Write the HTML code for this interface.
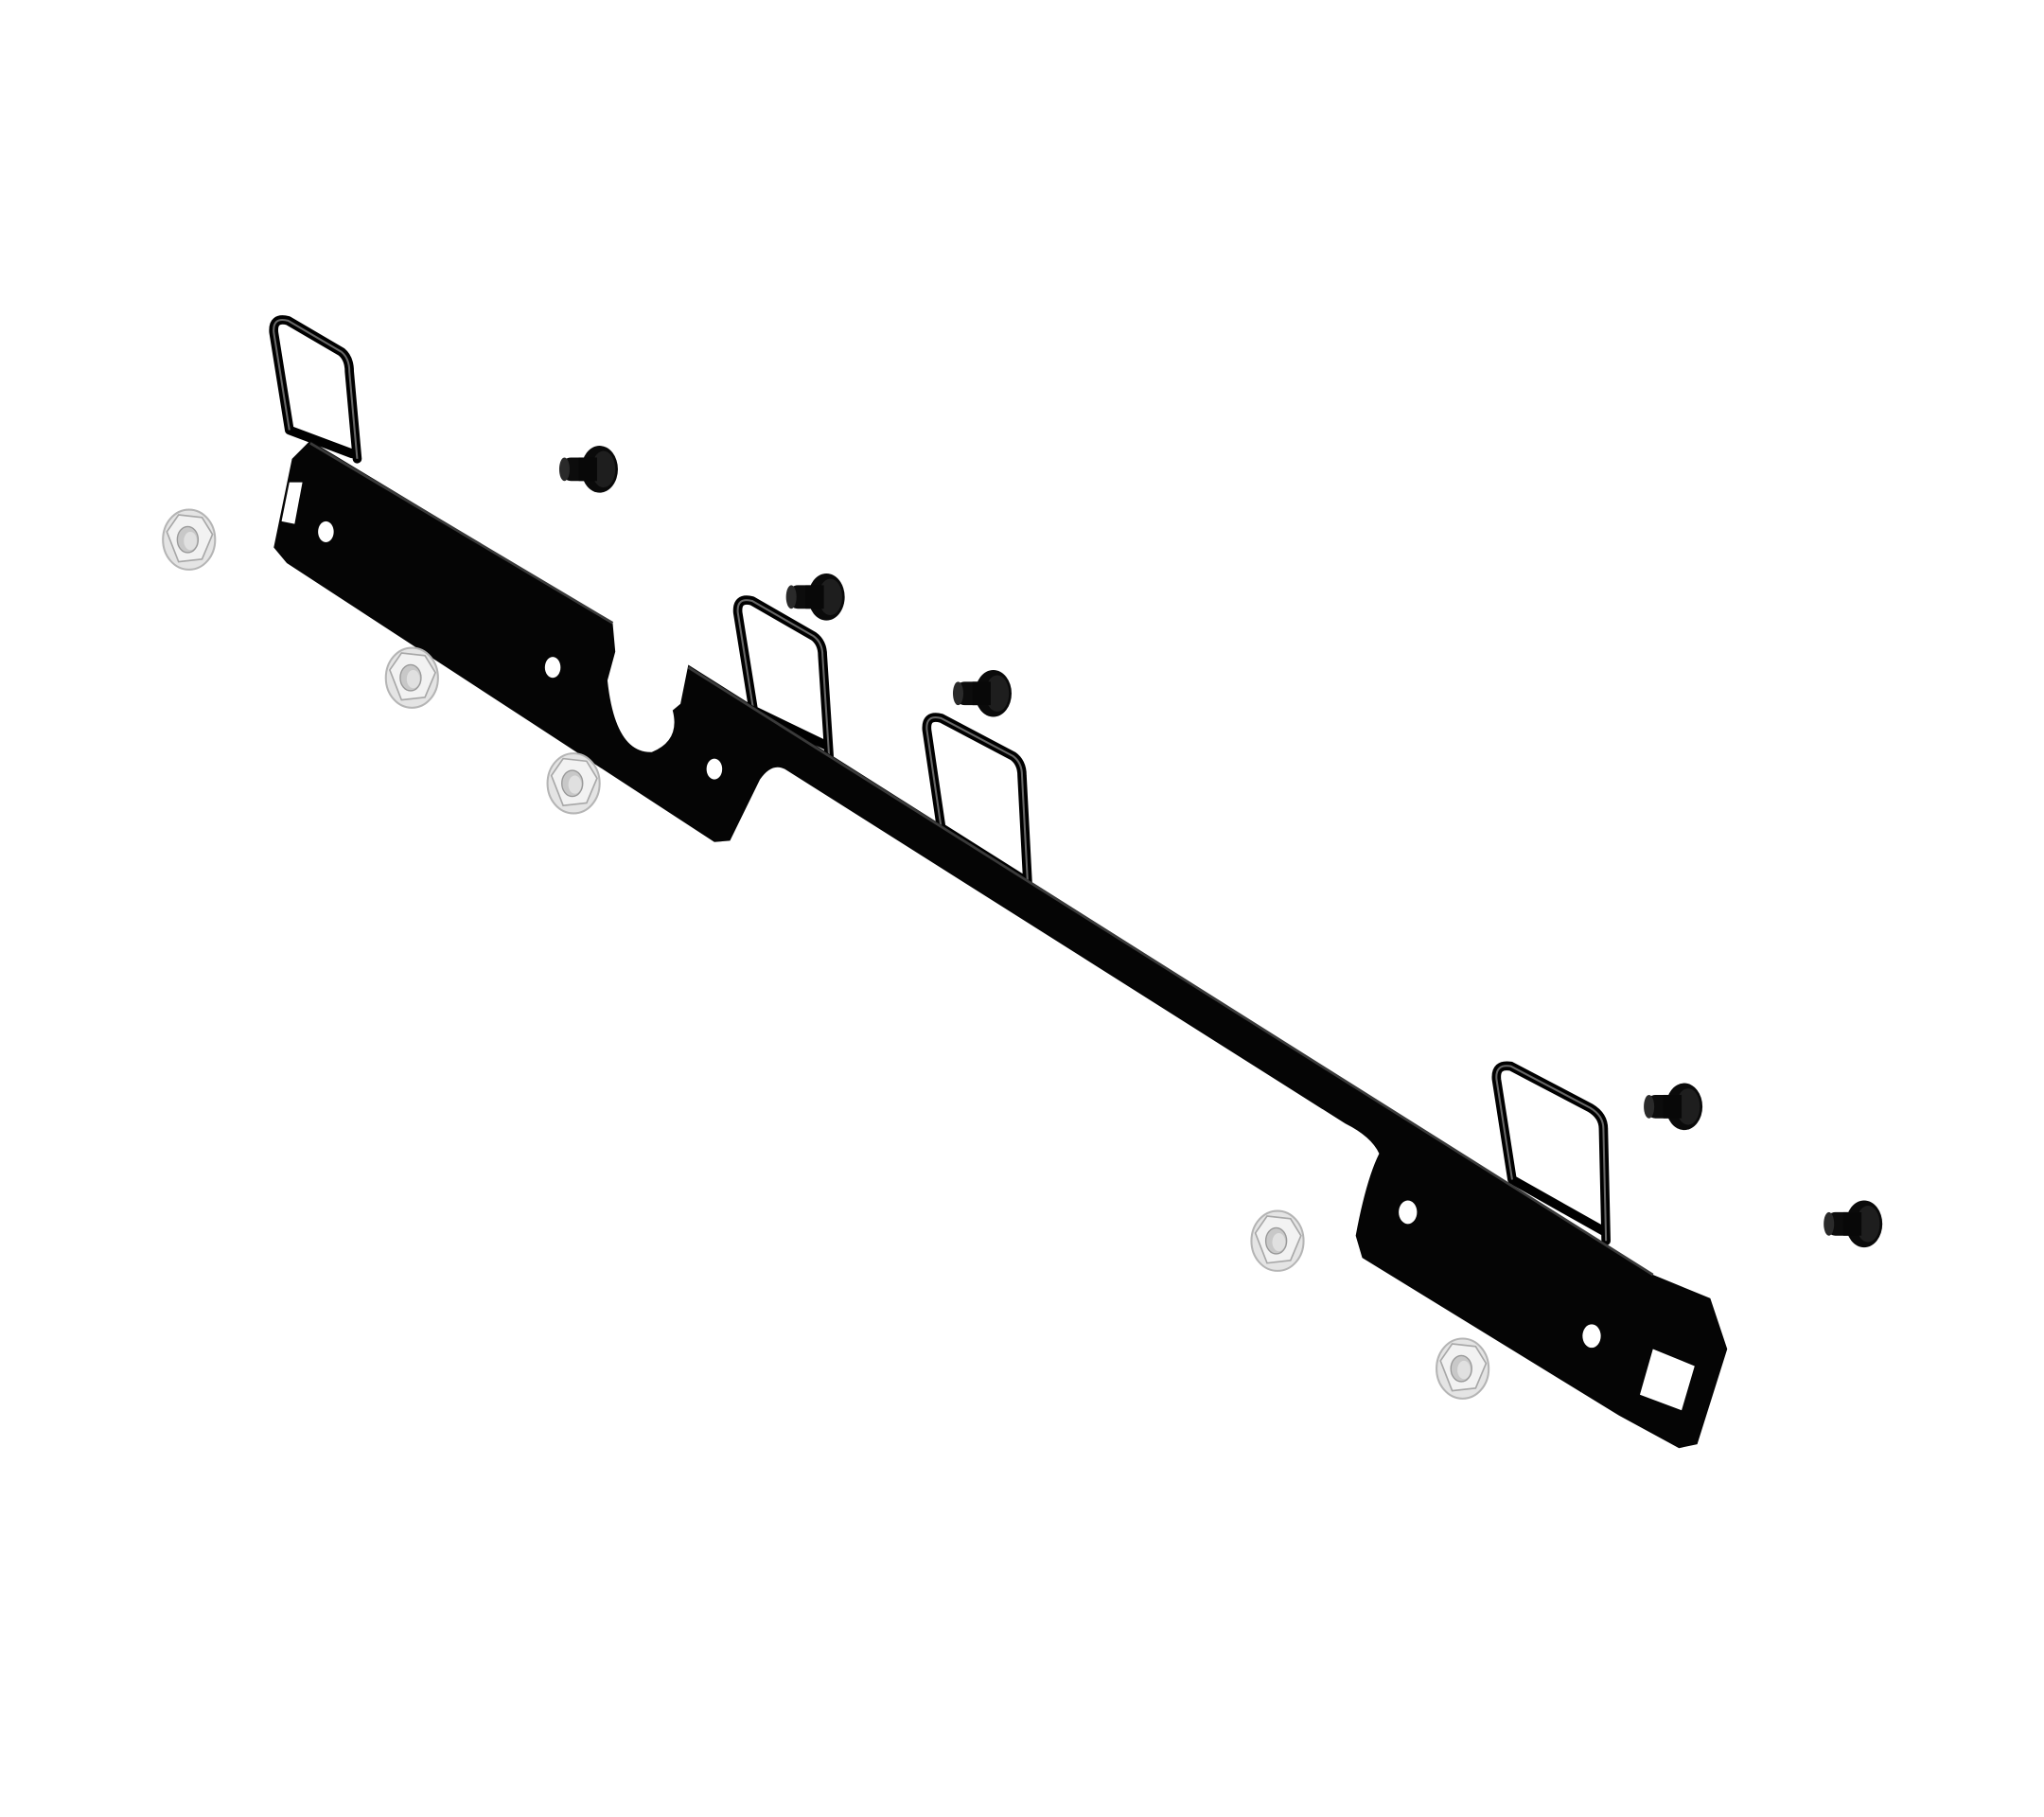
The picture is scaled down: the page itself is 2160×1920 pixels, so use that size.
<!DOCTYPE html>
<html><head><meta charset="utf-8"><style>
html,body{margin:0;padding:0;background:#fff;width:2160px;height:1920px;overflow:hidden}
svg{display:block}
</style></head><body>
<svg width="2160" height="1920" viewBox="0 0 1568 1394" preserveAspectRatio="none" xmlns="http://www.w3.org/2000/svg">
<defs>
<g id="bolt">
<rect x="-27" y="-9" width="26" height="18" rx="7" fill="#0c0c0c"/>
<ellipse cx="-25" cy="0" rx="4" ry="9" fill="#2a2a2a"/>
<ellipse cx="2" cy="0" rx="14" ry="18" fill="#0a0a0a"/>
<ellipse cx="5" cy="0" rx="9" ry="14" fill="#1e1e1e"/>
<rect x="-14" y="-9" width="14" height="18" fill="#080808"/>
</g>
<g id="nut">
<ellipse cx="0" cy="0" rx="20" ry="23" fill="#e4e4e4" stroke="#b5b5b5" stroke-width="1.5"/>
<polygon points="-17,-6 -8,-19 10,-17 18,-4 10,15 -8,17" fill="#f2f2f2" stroke="#a8a8a8" stroke-width="1.2"/>
<ellipse cx="-1" cy="0" rx="8" ry="10" fill="#c8c8c8" stroke="#999"/>
<ellipse cx="1" cy="1" rx="5" ry="7" fill="#e0e0e0"/>
</g>
</defs>

<!-- wire loops -->
<g fill="none" stroke="#000" stroke-width="7" stroke-linejoin="round" stroke-linecap="round">
<path d="M222,330 L210,255 Q209,243 221,246 L262,270 Q268,275 268,285 L274,352 M222,330 L270,348"/>
<path d="M578,545 L566,470 Q565,458 577,461 L624,488 Q631,493 631,503 L636,580 M578,545 L634,572"/>
<path d="M722,635 L711,560 Q710,548 722,551 L777,580 Q784,585 784,595 L789,690 M722,635 L787,676"/>
<path d="M1160,905 L1148,828 Q1147,816 1159,818 L1220,850 Q1230,856 1230,866 L1232,952 M1160,905 L1231,945"/>
</g>
<g fill="none" stroke="#666" stroke-width="1.5">
<path d="M222,330 L210,255 Q209,243 221,246 L262,270 Q268,275 268,285 L274,352"/>
<path d="M578,545 L566,470 Q565,458 577,461 L624,488 Q631,493 631,503 L636,580"/>
<path d="M722,635 L711,560 Q710,548 722,551 L777,580 Q784,585 784,595 L789,690"/>
<path d="M1160,905 L1148,828 Q1147,816 1159,818 L1220,850 Q1230,856 1230,866 L1232,952"/>
</g>

<!-- bracket -->
<path d="M238,338 L470,478 L472,500 L466,522 Q472,578 500,577 Q522,568 516,545 L522,540 L528,510 L1268,978 L1312,996 L1325,1035 L1302,1108 L1288,1111 L1242,1086 L1045,965 L1040,948 Q1048,905 1058,885 Q1052,872 1032,862 L602,590 Q592,585 583,598 L560,645 L548,646 L220,432 L210,420 L224,352 Z" fill="#050505"/>
<path d="M238,340 L470,478 M528,512 L1268,978" stroke="#3a3a3a" stroke-width="2" fill="none"/>

<!-- holes -->
<g fill="#fff">
<ellipse cx="250" cy="408" rx="6" ry="8"/>
<ellipse cx="424" cy="512" rx="6" ry="8"/>
<ellipse cx="548" cy="590" rx="6" ry="8"/>
<ellipse cx="1080" cy="930" rx="7" ry="9"/>
<ellipse cx="1221" cy="1025" rx="7" ry="9"/>
<polygon points="1268,1035 1300,1048 1290,1082 1258,1070"/>
<polygon points="222,370 232,370 226,402 216,400"/>
</g>

<!-- bolts -->
<use href="#bolt" x="458" y="360"/>
<use href="#bolt" x="632" y="458"/>
<use href="#bolt" x="760" y="532"/>
<use href="#bolt" x="1290" y="849"/>
<use href="#bolt" x="1428" y="939"/>

<!-- nuts -->
<use href="#nut" x="145" y="414"/>
<use href="#nut" x="316" y="520"/>
<use href="#nut" x="440" y="601"/>
<use href="#nut" x="980" y="952"/>
<use href="#nut" x="1122" y="1050"/>
</svg>
</body></html>
